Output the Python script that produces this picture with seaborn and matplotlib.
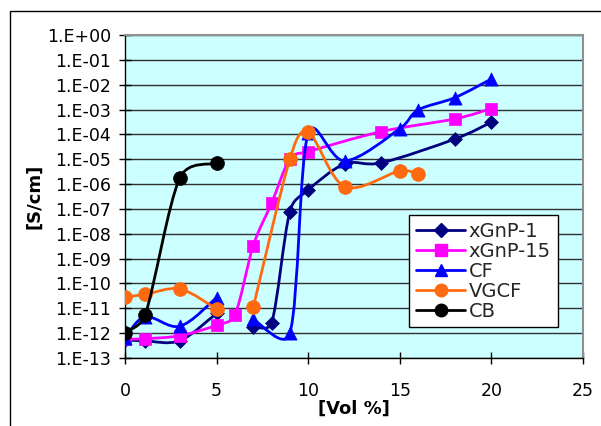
import numpy as np
import pandas as pd
import matplotlib
matplotlib.use("Agg")
import matplotlib.pyplot as plt
import seaborn as sns
from matplotlib.path import Path
from matplotlib.patches import PathPatch, Rectangle
from matplotlib.lines import Line2D
from matplotlib.ticker import FixedLocator, FixedFormatter, NullLocator

# ---------------- data ----------------
series_names = ["xGnP-1", "xGnP-15", "CF", "VGCF", "CB"]

# NaN marks an empty cell (Excel leaves a gap in the line there)
xgnp1_x = [0, 1.1, 3, 5, 6, 7, 8, 9, 10, 12, 14, 18, 20]
xgnp1_y = [5.4e-13, 4.9e-13, 5.0e-13, 6.3e-12, np.nan, 1.8e-12, 2.5e-12, 7.8e-8, 5.8e-7, 6.5e-6, 7.2e-6, 6.5e-5, 3.1e-4]

xgnp15_x = [0, 1.1, 3, 5, 6, 7, 8, 9, 10, 14, 18, 20]
xgnp15_y = [5.7e-13, 6.0e-13, 7.9e-13, 2.1e-12, 5.6e-12, 3.3e-9, 1.7e-7, 1.0e-5, 2.0e-5, 1.3e-4, 4.2e-4, 1.1e-3]

cf_x = [0, 1.1, 3, 5, 6, 7, 9, 10, 12, 15, 16, 18, 20]
cf_y = [6.3e-13, 4.6e-12, 1.9e-12, 2.7e-11, np.nan, 3.6e-12, 1.0e-12, 1.1e-4, 8.5e-6, 1.7e-4, 9.6e-4, 3.0e-3, 1.7e-2]

vgcf_x = [0, 1.1, 3, 5, 6, 7, 9, 10, 12, 15, 16]
vgcf_y = [2.9e-11, 3.6e-11, 6.0e-11, 9.4e-12, np.nan, 1.1e-11, 1.0e-5, 1.26e-4, 7.9e-7, 3.4e-6, 2.6e-6]

cb_x = [0, 1.1, 3, 5]
cb_y = [1.05e-12, 5.4e-12, 1.8e-6, 6.9e-6]

y_tick_exp = list(range(-13, 1))
y_tick_labels = ["1.E-13", "1.E-12", "1.E-11", "1.E-10", "1.E-09", "1.E-08", "1.E-07",
                 "1.E-06", "1.E-05", "1.E-04", "1.E-03", "1.E-02", "1.E-01", "1.E+00"]
x_ticks = [0, 5, 10, 15, 20, 25]

# ---------------- styles ----------------
colors = {"xGnP-1": "#000080", "xGnP-15": "#FF00FF", "CF": "#0000FF",
          "VGCF": "#FF6A10", "CB": "#000000"}
markers = {"xGnP-1": "D", "xGnP-15": "s", "CF": "^", "VGCF": "o", "CB": "o"}
msizes = {"xGnP-1": 50, "xGnP-15": 64, "CF": 90, "VGCF": 100, "CB": 100}

frames = []
for name, xs, ys in zip(series_names,
                        [xgnp1_x, xgnp15_x, cf_x, vgcf_x, cb_x],
                        [xgnp1_y, xgnp15_y, cf_y, vgcf_y, cb_y]):
    frames.append(pd.DataFrame({"vol": xs, "cond": ys, "series": name}))
df = pd.concat(frames, ignore_index=True)

sns.set_theme(style="white")
plt.rcParams["font.family"] = ["DejaVu Sans"]

fig = plt.figure(figsize=(6.01, 4.26), dpi=100)
ax = fig.add_axes([125 / 601, 1 - 358 / 426, 458 / 601, 323 / 426])
ax.set_facecolor("#CCFFFF")
ax.set_yscale("log")
ax.set_xlim(0, 25)
ax.set_ylim(1e-13, 1.0)

# pixel size of one x unit / one decade (for Excel-like smoothing limits)
SX = 458 / 25.0
SY = 323 / 13.0


def _dist(a, b):
    return np.hypot((a[0] - b[0]) * SX, (a[1] - b[1]) * SY)


def smooth_patch(xs, ys, color, z):
    """Excel-style smoothed line: cubic Bezier through the points (log space)."""
    pts = [(float(x), float(np.log10(y))) for x, y in zip(xs, ys)]
    n = len(pts)
    if n < 2:
        return
    verts = [(pts[0][0], 10 ** pts[0][1])]
    codes = [Path.MOVETO]
    for i in range(n - 1):
        p0 = pts[max(i - 1, 0)]
        p1 = pts[i]
        p2 = pts[i + 1]
        p3 = pts[min(i + 2, n - 1)]
        d12 = _dist(p1, p2)
        d02 = _dist(p0, p2)
        d13 = _dist(p1, p3)
        f1 = 1 / 6.0
        f2 = 1 / 6.0
        if d02 * f1 > d12 / 2 and d02 > 0:
            f1 = d12 / 2 / d02
        if d13 * f2 > d12 / 2 and d13 > 0:
            f2 = d12 / 2 / d13
        c1 = (p1[0] + f1 * (p2[0] - p0[0]), p1[1] + f1 * (p2[1] - p0[1]))
        c2 = (p2[0] - f2 * (p3[0] - p1[0]), p2[1] - f2 * (p3[1] - p1[1]))
        verts += [(c1[0], 10 ** c1[1]), (c2[0], 10 ** c2[1]), (p2[0], 10 ** p2[1])]
        codes += [Path.CURVE4] * 3
    patch = PathPatch(Path(verts, codes), facecolor="none", edgecolor=color,
                      lw=2.0, zorder=z, capstyle="round", joinstyle="round")
    ax.add_patch(patch)


for k, name in enumerate(series_names):
    sub = df[df["series"] == name].reset_index(drop=True)
    # split into runs of valid values (gaps at empty cells)
    valid = sub["cond"].notna().values
    run = []
    for i in range(len(sub)):
        if valid[i]:
            run.append(i)
        else:
            if run:
                smooth_patch(sub.loc[run, "vol"], sub.loc[run, "cond"], colors[name], 3 + 2 * k)
            run = []
    if run:
        smooth_patch(sub.loc[run, "vol"], sub.loc[run, "cond"], colors[name], 3 + 2 * k)
    sns.scatterplot(data=sub.dropna(), x="vol", y="cond", ax=ax, marker=markers[name],
                    color=colors[name], edgecolor=colors[name], s=msizes[name],
                    linewidth=0.5, zorder=4 + 2 * k, legend=False)

ax.set_xlim(0, 25)
ax.set_ylim(1e-13, 1.0)

ax.yaxis.set_major_locator(FixedLocator([10.0 ** e for e in y_tick_exp]))
ax.yaxis.set_major_formatter(FixedFormatter(y_tick_labels))
ax.yaxis.set_minor_locator(NullLocator())
ax.set_xticks(x_ticks)
ax.set_xticklabels([str(v) for v in x_ticks])
ax.grid(False)
ax.yaxis.grid(True, color="#303030", lw=1.0, zorder=1)
ax.set_axisbelow(True)

ax.tick_params(axis="y", which="major", direction="inout", length=8, width=1,
               color="black", labelsize=12.5, pad=6, left=True)
ax.tick_params(axis="x", which="major", direction="inout", length=8, width=1,
               color="black", labelsize=12.5, pad=13, bottom=True)
for lab in ax.get_xticklabels() + ax.get_yticklabels():
    lab.set_color("black")

for side in ["left", "bottom"]:
    ax.spines[side].set_color("black")
    ax.spines[side].set_linewidth(1.0)
for side in ["right", "top"]:
    ax.spines[side].set_color("#909090")
    ax.spines[side].set_linewidth(1.5)
    ax.spines[side].set_visible(True)

ax.set_xlabel("[Vol %]", fontsize=13, fontweight="bold", labelpad=0, color="black")
ax.set_ylabel("[S/cm]", fontsize=13, fontweight="bold", labelpad=3, color="black")

handles = [Line2D([], [], color=colors[n], marker=markers[n], lw=2,
                  markersize={"D": 7, "s": 8, "^": 9, "o": 9}[markers[n]],
                  markeredgecolor=colors[n]) for n in series_names]
leg = ax.legend(handles, series_names, loc="upper left",
                bbox_to_anchor=(0.621, 0.443), frameon=True, fancybox=False,
                shadow=False, fontsize=14, handlelength=2.5, handletextpad=0.2,
                labelspacing=0.05, borderpad=0.35, borderaxespad=0.0)
leg.get_frame().set_edgecolor("black")
leg.get_frame().set_linewidth(1.0)
leg.get_frame().set_facecolor("white")
leg.get_frame().set_alpha(1.0)
leg.set_zorder(20)

# outer chart-area border (only top/left visible in the reference)
fig.patches.append(Rectangle((10.5 / 601, -0.2), 1.2, 1.2 - 10.5 / 426,
                             transform=fig.transFigure, fill=False,
                             edgecolor="black", lw=1.0))

fig.savefig("out.png", dpi=100, facecolor="white")
